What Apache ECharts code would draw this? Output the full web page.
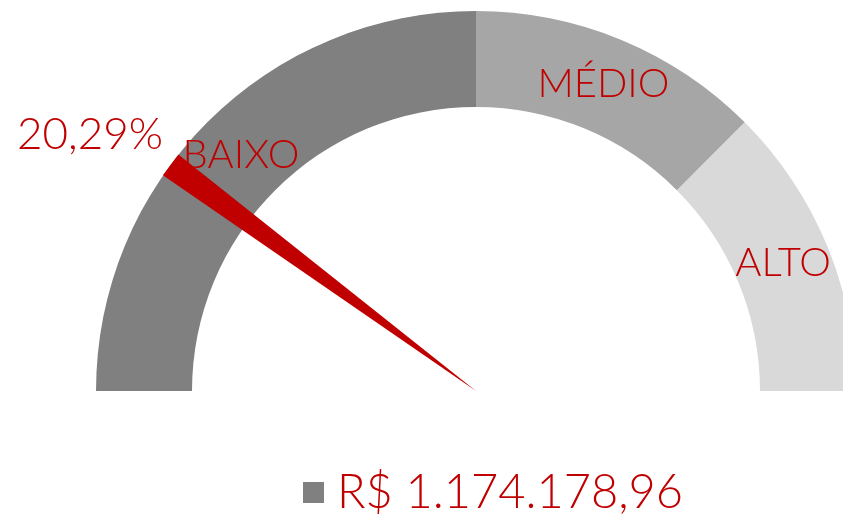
<!DOCTYPE html>
<html>
<head>
<meta charset="utf-8">
<script src="https://cdn.jsdelivr.net/npm/echarts@6/dist/echarts.min.js"></script>
<style>html,body{margin:0;padding:0;background:#fff}#c{width:843px;height:514px}</style>
</head>
<body>
<div id="c"></div>
<script>
// Data
const seriesName = 'R$ 1.174.178,96';
const gaugeValue = 20.29;
const bandNames = ['BAIXO', 'MÉDIO', 'ALTO'];
const bandEnds = [0.5, 0.75, 1];
const bandColors = ['#808080', '#a6a6a6', '#d9d9d9'];
const bandLabelValues = [25, 62.5, 87.5];

const chart = echarts.init(document.getElementById('c'));
const red = '#c00000';
const font = 'Lato';

chart.setOption({
  animation: false,
  legend: {
    show: true,
    data: [seriesName],
    left: 298,
    top: 464,
    icon: 'rect',
    itemWidth: 21,
    itemHeight: 21,
    itemGap: 10,
    itemStyle: { color: '#808080' },
    textStyle: { color: red, fontSize: 47, fontFamily: font, fontWeight: 300, padding: [0, 0, 0, 8] }
  },
  series: [{
    type: 'gauge',
    name: seriesName,
    center: [476, 391],
    radius: 380,
    startAngle: 180,
    endAngle: 0,
    min: 0,
    max: 100,
    splitNumber: 8,
    axisLine: {
      lineStyle: {
        width: 96,
        color: bandEnds.map((e, i) => [e, bandColors[i]])
      }
    },
    axisTick: { show: false },
    splitLine: { show: false, length: 0, distance: 0 },
    axisLabel: {
      show: true,
      distance: 47,
      color: red,
      fontSize: 40,
      fontFamily: font,
      fontWeight: 300,
      formatter: function (v) {
        const i = bandLabelValues.indexOf(v);
        return i >= 0 ? '{c|' + bandNames[i] + '}' : '';
      },
      rich: {
        c: {
          width: 1, height: 1, lineHeight: 1,
          align: 'center', verticalAlign: 'middle',
          color: red, fontSize: 40, fontFamily: font, fontWeight: 300
        }
      }
    },
    pointer: {
      show: true,
      icon: 'path://M0,0 L26,0 L13,380 Z',
      length: '100%',
      width: 26,
      offsetCenter: [0, 0],
      keepAspect: false,
      itemStyle: { color: red }
    },
    anchor: { show: false },
    title: { show: false },
    detail: {
      show: true,
      offsetCenter: [-386, -256],
      color: red,
      fontSize: 44,
      fontFamily: font,
      fontWeight: 300,
      formatter: function (v) { return v.toFixed(2).replace('.', ',') + '%'; }
    },
    data: [{ value: gaugeValue, name: seriesName }]
  }]
});
</script>
</body>
</html>
